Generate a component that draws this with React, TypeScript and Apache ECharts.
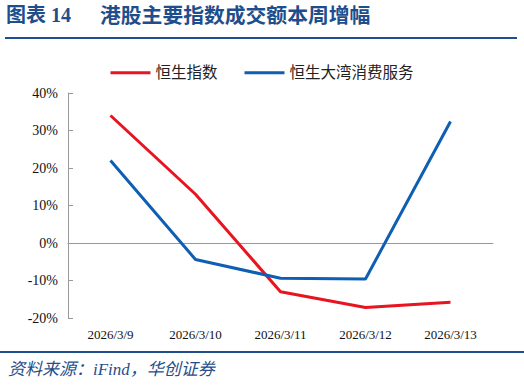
import React, { useEffect, useRef } from "react";
import * as echarts from "echarts";

const categories = ["2026/3/9", "2026/3/10", "2026/3/11", "2026/3/12", "2026/3/13"];
const hsiValues = [34.0, 13.0, -13.0, -17.2, -15.8];
const gbaValues = [22.0, -4.4, -9.4, -9.6, 32.4];
const seriesNames = ["恒生指数", "恒生大湾消费服务"];
const titleLabel = "图表 14";
const titleText = "港股主要指数成交额本周增幅";
const sourceText = "资料来源：iFind，华创证券";

const CJK = '"Times New Roman","Liberation Serif","Noto Sans CJK SC",serif';
const NUM = '"Liberation Serif","Times New Roman",serif';
const TITLE_BLUE = "#1F4E8C";

export default function App() {
  const ref = useRef<HTMLDivElement>(null);
  useEffect(() => {
    if (!ref.current) return;
    const chart = echarts.init(ref.current, null, { renderer: "svg" });
    chart.setOption({
      animation: false,
      backgroundColor: "#ffffff",
      grid: { left: 68, right: 31, top: 93, bottom: 69 },
      legend: {
        left: "center",
        top: 60,
        itemWidth: 40,
        itemHeight: 3,
        itemGap: 27,
        icon: "rect",
        textStyle: { fontFamily: CJK, fontSize: 15.5, color: "#222" },
        data: seriesNames,
      },
      xAxis: [
        {
          type: "category",
          data: categories,
          boundaryGap: true,
          position: "bottom",
          axisLine: { show: false, onZero: false },
          axisTick: { show: false },
          axisLabel: { fontFamily: NUM, fontSize: 13, color: "#111", margin: 10, interval: 0 },
        },
        {
          type: "category",
          data: categories,
          boundaryGap: true,
          position: "bottom",
          axisLine: { show: true, onZero: true, lineStyle: { color: "#999", width: 1 } },
          axisTick: { show: false },
          axisLabel: { show: false },
        },
      ],
      yAxis: {
        type: "value",
        min: -20,
        max: 40,
        interval: 10,
        axisLine: { show: true, lineStyle: { color: "#999" } },
        axisTick: { show: true, inside: true, length: 5, lineStyle: { color: "#999" } },
        splitLine: { show: false },
        axisLabel: {
          formatter: "{value}%",
          fontFamily: NUM,
          fontSize: 14,
          color: "#111",
          margin: 10,
        },
      },
      series: [
        {
          name: seriesNames[0],
          type: "line",
          data: hsiValues,
          symbol: "none",
          lineStyle: { color: "#E8141F", width: 3 },
          itemStyle: { color: "#E8141F" },
        },
        {
          name: seriesNames[1],
          type: "line",
          data: gbaValues,
          symbol: "none",
          lineStyle: { color: "#0E5EB4", width: 3 },
          itemStyle: { color: "#0E5EB4" },
        },
      ],
      graphic: [
        {
          type: "text",
          left: 6,
          top: 5,
          style: { text: titleLabel, font: `bold 20px ${CJK}`, fill: TITLE_BLUE },
        },
        {
          type: "text",
          left: 100,
          top: 5,
          style: { text: titleText, font: `bold 20.8px ${CJK}`, fill: TITLE_BLUE },
        },
        {
          type: "line",
          shape: { x1: 5, y1: 38, x2: 517, y2: 38 },
          style: { stroke: TITLE_BLUE, lineWidth: 2 },
        },
        {
          type: "line",
          shape: { x1: 0, y1: 352, x2: 524, y2: 352 },
          style: { stroke: TITLE_BLUE, lineWidth: 2 },
        },
        {
          type: "text",
          left: 8,
          top: 361,
          style: { text: sourceText, font: `italic 17px ${CJK}`, fill: TITLE_BLUE },
        },
      ],
    });
    return () => chart.dispose();
  }, []);
  return (
    <div
      ref={ref}
      style={{ position: "fixed", left: 0, top: 0, width: 524, height: 387 }}
    />
  );
}
